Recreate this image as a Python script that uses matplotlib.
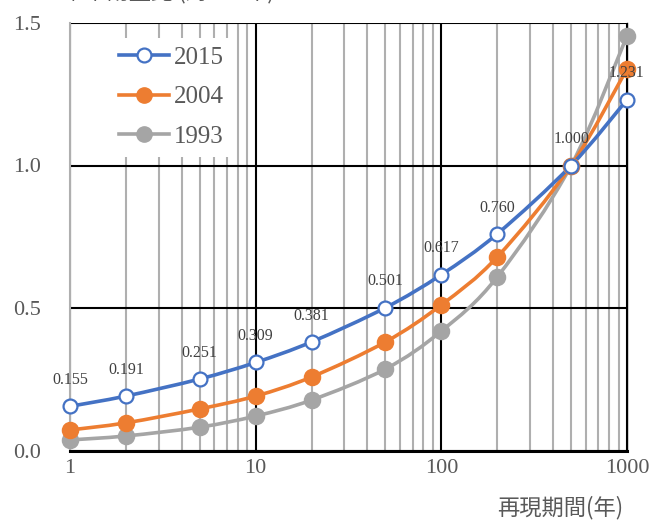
import numpy as np
import matplotlib
matplotlib.use("Agg")
import matplotlib.pyplot as plt
from matplotlib.path import Path
from matplotlib.patches import PathPatch
from matplotlib.lines import Line2D

# 再現期間(年)と各年の確率雨量比(500年=1.0)
periods = [1, 2, 5, 10, 20, 50, 100, 200, 500, 1000]
ratio_2015 = [0.155, 0.191, 0.251, 0.309, 0.381, 0.501, 0.617, 0.760, 1.000, 1.231]
ratio_2004 = [0.072, 0.097, 0.146, 0.191, 0.258, 0.381, 0.511, 0.679, 1.000, 1.339]
ratio_1993 = [0.037, 0.051, 0.082, 0.121, 0.177, 0.286, 0.419, 0.609, 1.000, 1.455]
series_names = ["2015", "2004", "1993"]
x_ticks = [1, 10, 100, 1000]
y_ticks = [0.0, 0.5, 1.0, 1.5]

BLUE = "#4472C4"
ORANGE = "#ED7D31"
GRAY = "#A5A5A5"
TXT = "#595959"
SERIF = "Liberation Serif"
JP = ["Noto Sans CJK JP", "DejaVu Sans"]


def smooth_path(xs, ys):
    # Excel風のスムージング: log10(x) 空間でのベジェ曲線
    u = np.log10(xs)
    y = np.asarray(ys, dtype=float)
    pts = np.column_stack([u, y])
    n = len(pts)
    verts = [pts[0]]
    codes = [Path.MOVETO]
    for i in range(n - 1):
        p0 = pts[i - 1] if i > 0 else pts[i]
        p1 = pts[i]
        p2 = pts[i + 1]
        p3 = pts[i + 2] if i + 2 < n else pts[i + 1]
        c1 = p1 + (p2 - p0) / 6.0
        c2 = p2 - (p3 - p1) / 6.0
        verts += [c1, c2, p2]
        codes += [Path.CURVE4] * 3
    verts = np.array(verts)
    verts[:, 0] = 10 ** verts[:, 0]
    return Path(verts, codes)


fig = plt.figure(figsize=(6.52, 5.21), dpi=100)
ax = fig.add_axes([70 / 652, 1 - 450.5 / 521, 557 / 652, 427.5 / 521])
ax.set_xscale("log")
ax.set_xlim(1, 1000)
ax.set_ylim(0, 1.5)

# 目盛線
ax.set_axisbelow(True)
ax.grid(True, which="minor", axis="x", color="#AFAFAF", lw=1.5)
ax.grid(True, which="major", axis="x", color="black", lw=1.5)
ax.grid(True, which="major", axis="y", color="black", lw=1.5)
ax.spines["top"].set_visible(False)
ax.spines["left"].set_color("#AFAFAF")
ax.spines["left"].set_linewidth(1.5)
ax.spines["right"].set_color("black")
ax.spines["right"].set_linewidth(1.0)
ax.spines["bottom"].set_color("black")
ax.spines["bottom"].set_linewidth(2.2)

ax.set_xticks(x_ticks)
ax.set_xticklabels([str(v) for v in x_ticks])
ax.set_yticks(y_ticks)
ax.set_yticklabels([f"{v:.1f}" for v in y_ticks])
ax.tick_params(axis="both", which="both", length=0, labelsize=16, labelcolor=TXT)
ax.tick_params(axis="x", pad=6)
ax.tick_params(axis="y", pad=21)
for lab in ax.get_xticklabels() + ax.get_yticklabels():
    lab.set_fontfamily(SERIF)

series = [
    (ratio_1993, GRAY, GRAY, 11),
    (ratio_2004, ORANGE, ORANGE, 11),
    (ratio_2015, BLUE, "white", 10),
]
for vals, col, face, ms in series:
    ax.add_patch(PathPatch(smooth_path(periods, vals), fill=False,
                           edgecolor=col, lw=2.6, capstyle="round",
                           zorder=3, clip_on=False))
    ax.plot(periods, vals, ls="none", marker="o", ms=ms, mfc=face,
            mec=col, mew=1.6, zorder=4, clip_on=False)

# 2015年のデータラベル
for x, v in zip(periods, ratio_2015):
    ax.annotate(f"{v:.3f}", (x, v), xytext=(0, 19), textcoords="offset points",
                ha="center", va="center", fontsize=11.5, color="#404040",
                family=SERIF, zorder=5)

handles = [
    Line2D([], [], color=BLUE, lw=2.6, marker="o", ms=10, mfc="white", mec=BLUE, mew=1.6),
    Line2D([], [], color=ORANGE, lw=2.6, marker="o", ms=11, mfc=ORANGE, mec=ORANGE),
    Line2D([], [], color=GRAY, lw=2.6, marker="o", ms=11, mfc=GRAY, mec=GRAY),
]
leg = ax.legend(handles, series_names, loc="upper left",
                bbox_to_anchor=(28 / 557, 1 - 2 / 427.5),
                prop={"family": SERIF, "size": 18}, labelcolor=TXT,
                handlelength=2.0, handletextpad=0.2, labelspacing=0.68,
                borderpad=0.35, frameon=True, fancybox=False,
                facecolor="white", edgecolor="none", framealpha=1)
leg.set_zorder(6)

ax.set_xlabel("再現期間(年)", fontsize=16, color=TXT, family=JP, va="center")
ax.xaxis.set_label_coords(490 / 557, -57 / 427.5)

# 上端の軸タイトル(一部のみ表示)
fig.text(62 / 652, 1 + 2 / 521, "確率雨量比 (対500年)", fontsize=16,
         color=TXT, family=JP, va="baseline", ha="left")

fig.savefig("out.png", dpi=100)
